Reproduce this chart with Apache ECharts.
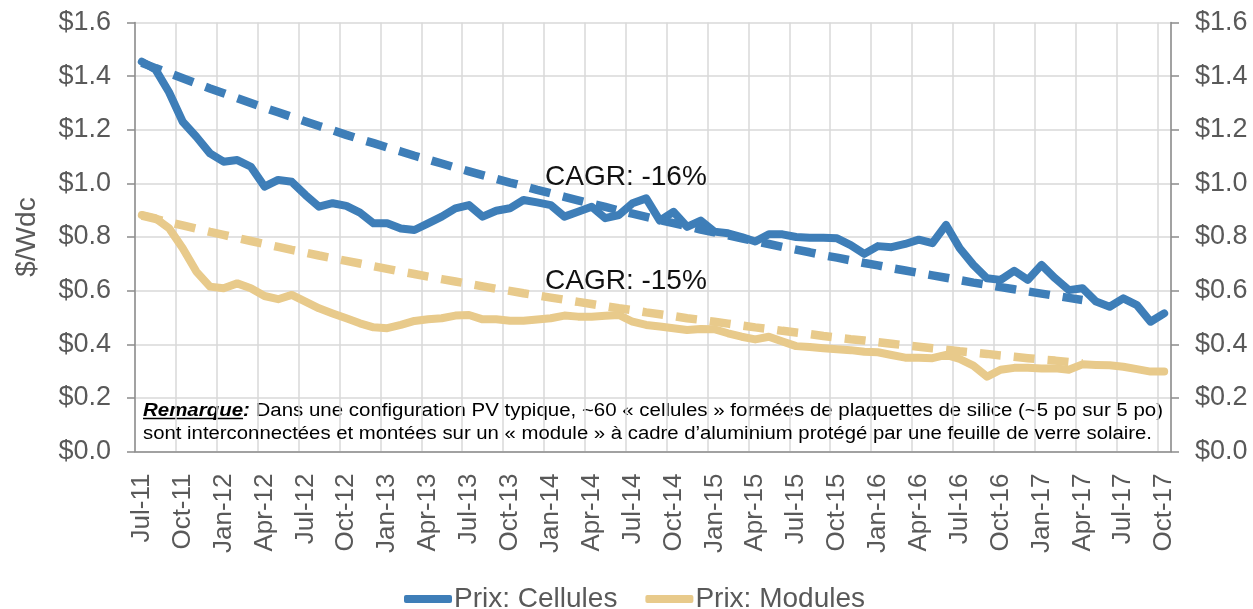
<!DOCTYPE html>
<html>
<head>
<meta charset="utf-8">
<script src="https://cdn.jsdelivr.net/npm/echarts@6/dist/echarts.min.js"></script>
<style>
  html, body { margin: 0; padding: 0; background: #fff; }
  #chart { width: 1253px; height: 609px; }
</style>
</head>
<body>
<div id="chart"></div>
<script>
// monthly categories, Jul-11 .. Oct-17
const months = [
  'Jul-11', 'Aug-11', 'Sep-11', 'Oct-11', 'Nov-11', 'Dec-11',
  'Jan-12', 'Feb-12', 'Mar-12', 'Apr-12', 'May-12', 'Jun-12', 'Jul-12', 'Aug-12', 'Sep-12', 'Oct-12', 'Nov-12', 'Dec-12',
  'Jan-13', 'Feb-13', 'Mar-13', 'Apr-13', 'May-13', 'Jun-13', 'Jul-13', 'Aug-13', 'Sep-13', 'Oct-13', 'Nov-13', 'Dec-13',
  'Jan-14', 'Feb-14', 'Mar-14', 'Apr-14', 'May-14', 'Jun-14', 'Jul-14', 'Aug-14', 'Sep-14', 'Oct-14', 'Nov-14', 'Dec-14',
  'Jan-15', 'Feb-15', 'Mar-15', 'Apr-15', 'May-15', 'Jun-15', 'Jul-15', 'Aug-15', 'Sep-15', 'Oct-15', 'Nov-15', 'Dec-15',
  'Jan-16', 'Feb-16', 'Mar-16', 'Apr-16', 'May-16', 'Jun-16', 'Jul-16', 'Aug-16', 'Sep-16', 'Oct-16', 'Nov-16', 'Dec-16',
  'Jan-17', 'Feb-17', 'Mar-17', 'Apr-17', 'May-17', 'Jun-17', 'Jul-17', 'Aug-17', 'Sep-17', 'Oct-17'
]

const yTickLabels = ['$0.0', '$0.2', '$0.4', '$0.6', '$0.8', '$1.0', '$1.2', '$1.4', '$1.6']

// Prix: Cellules ($/Wdc)
const cellPrice = [
  1.454, 1.425, 1.34, 1.23, 1.174, 1.112,
  1.081, 1.087, 1.062, 0.988, 1.013, 1.006, 0.957, 0.913, 0.926, 0.916, 0.891, 0.851,
  0.851, 0.832, 0.826, 0.851, 0.876, 0.907, 0.919, 0.876, 0.898, 0.907, 0.938, 0.929,
  0.919, 0.876, 0.894, 0.913, 0.870, 0.882, 0.926, 0.944, 0.861, 0.894, 0.838, 0.861,
  0.820, 0.814, 0.800, 0.783, 0.810, 0.810, 0.800, 0.797, 0.797, 0.795, 0.770, 0.737,
  0.766, 0.762, 0.774, 0.790, 0.777, 0.845, 0.758, 0.696, 0.646, 0.640, 0.674, 0.640,
  0.696, 0.646, 0.602, 0.609, 0.559, 0.540, 0.571, 0.546, 0.484, 0.515
]

// Prix: Modules ($/Wdc)
const modulePrice = [
  0.882, 0.870, 0.833, 0.758, 0.671, 0.615,
  0.609, 0.627, 0.609, 0.580, 0.568, 0.584, 0.559, 0.534, 0.515, 0.497, 0.478, 0.463,
  0.460, 0.472, 0.487, 0.493, 0.497, 0.507, 0.509, 0.493, 0.493, 0.488, 0.488, 0.492,
  0.497, 0.507, 0.503, 0.503, 0.506, 0.509, 0.484, 0.472, 0.466, 0.460, 0.453, 0.457,
  0.456, 0.441, 0.428, 0.418, 0.428, 0.410, 0.393, 0.390, 0.385, 0.381, 0.378, 0.372,
  0.370, 0.360, 0.350, 0.350, 0.348, 0.360, 0.345, 0.320, 0.279, 0.305, 0.312, 0.312,
  0.310, 0.310, 0.305, 0.325, 0.323, 0.322, 0.316, 0.307, 0.298, 0.298
]

// CAGR trend lines (dashed), Jul-11 .. Apr-17
const cellTrend = [
  1.450, 1.430, 1.411, 1.392, 1.373, 1.354,
  1.336, 1.318, 1.300, 1.282, 1.265, 1.248, 1.231, 1.214, 1.198, 1.181, 1.165, 1.150,
  1.134, 1.119, 1.103, 1.089, 1.074, 1.059, 1.045, 1.031, 1.017, 1.003, 0.990, 0.976,
  0.963, 0.950, 0.937, 0.924, 0.912, 0.899, 0.887, 0.875, 0.863, 0.852, 0.840, 0.828,
  0.817, 0.806, 0.795, 0.784, 0.774, 0.763, 0.753, 0.743, 0.732, 0.723, 0.713, 0.703,
  0.694, 0.684, 0.675, 0.666, 0.657, 0.648, 0.639, 0.630, 0.622, 0.613, 0.605, 0.597,
  0.589, 0.581, 0.573, 0.565
]

const moduleTrend = [
  0.880, 0.868, 0.855, 0.843, 0.831, 0.819,
  0.808, 0.796, 0.785, 0.774, 0.763, 0.752, 0.742, 0.731, 0.721, 0.711, 0.701, 0.691,
  0.681, 0.671, 0.662, 0.652, 0.643, 0.634, 0.625, 0.616, 0.607, 0.599, 0.590, 0.582,
  0.574, 0.566, 0.558, 0.550, 0.542, 0.534, 0.527, 0.519, 0.512, 0.505, 0.497, 0.491,
  0.484, 0.477, 0.470, 0.463, 0.457, 0.450, 0.444, 0.438, 0.431, 0.425, 0.419, 0.414,
  0.408, 0.402, 0.396, 0.391, 0.385, 0.380, 0.374, 0.369, 0.364, 0.358, 0.353, 0.348,
  0.343, 0.339, 0.334, 0.329
]

const BLUE = '#3e7eb8'
const SAND = '#e8ca8b'
const GREY = '#595959'
const FONT = 'Liberation Sans, Arial, sans-serif'

const noteBold = 'Remarque:'
const noteUnder = 'Remarque'
const noteLine1 = ' Dans une configuration PV typique, ~60 « cellules » formées de plaquettes de silice (~5 po sur 5 po)'
const noteLine2 = 'sont interconnectées et montées sur un « module » à cadre d’aluminium protégé par une feuille de verre solaire.'

// measure text so the note lines can be stretched to the plot width
const ctx = document.createElement('canvas').getContext('2d')
function measure(str, font) {
  ctx.font = font
  return ctx.measureText(str).width
}

const boldFont = 'italic bold 18px ' + FONT
const plainFont = '18px ' + FONT
const wBold = measure(noteBold, boldFont)
const wUnder = measure(noteUnder, boldFont)
const wLine1 = wBold + measure(noteLine1, plainFont)
const wLine2 = measure(noteLine2, plainFont)

function trendSeries(name, data, color) {
  return {
    name: name,
    type: 'line',
    data: data,
    symbol: 'none',
    silent: true,
    z: 3,
    lineStyle: { color: color, width: 8.5, type: [21, 13], cap: 'butt' }
  }
}

function priceSeries(name, data, color) {
  return {
    name: name,
    type: 'line',
    data: data,
    symbol: 'none',
    itemStyle: { color: color },
    z: 2,
    lineStyle: { color: color, width: 8, cap: 'round', join: 'round' }
  }
}

function yAxisOpt(pos) {
  return {
    type: 'value',
    position: pos,
    min: 0,
    max: 1.6,
    interval: 0.2,
    axisLine: { show: true, lineStyle: { color: '#8c8c8c', width: 1.5 } },
    axisTick: { show: true, length: 8, lineStyle: { color: '#8c8c8c', width: 1.5 } },
    axisLabel: {
      color: GREY,
      fontSize: 27,
      fontFamily: FONT,
      margin: 24,
      formatter: v => yTickLabels[Math.round(v / 0.2)]
    },
    splitLine: { show: pos === 'left', lineStyle: { color: '#d9d9d9', width: 1.5 } }
  }
}

const chart = echarts.init(document.getElementById('chart'))

const leftAxis = yAxisOpt('left')
leftAxis.name = '$/Wdc'
leftAxis.nameLocation = 'middle'
leftAxis.nameGap = 94
leftAxis.nameTextStyle = { color: GREY, fontSize: 28, fontFamily: FONT }

chart.setOption({
  animation: false,
  backgroundColor: '#fff',
  textStyle: { fontFamily: FONT },
  grid: { left: 135, right: 82, top: 22.5, bottom: 157.5, outerBoundsMode: 'none' },
  legend: {
    data: ['Prix: Cellules', 'Prix: Modules'],
    left: 399,
    top: 580,
    icon: 'roundRect',
    itemWidth: 48,
    itemHeight: 8,
    itemGap: 28,
    textStyle: { color: GREY, fontSize: 28, fontFamily: FONT, padding: [0, 0, 0, -3] }
  },
  xAxis: {
    type: 'category',
    data: months,
    boundaryGap: true,
    axisLine: { lineStyle: { color: '#8c8c8c', width: 1.5 } },
    axisTick: { interval: 2, length: 8, lineStyle: { color: '#8c8c8c', width: 1.5 } },
    axisLabel: { interval: 2, rotate: 90, color: GREY, fontSize: 26, fontFamily: FONT, margin: 22 },
    splitLine: { show: true, interval: 2, lineStyle: { color: '#d9d9d9', width: 1.5 } }
  },
  yAxis: [leftAxis, yAxisOpt('right')],
  series: [
    priceSeries('Prix: Cellules', cellPrice, BLUE),
    priceSeries('Prix: Modules', modulePrice, SAND),
    trendSeries('Tendance cellules', cellTrend, BLUE),
    trendSeries('Tendance modules', moduleTrend, SAND)
  ],
  graphic: [
    {
      type: 'text', x: 545, y: 177, z: 10,
      style: { text: 'CAGR: -16%', fill: '#111', fontSize: 28, fontFamily: FONT, verticalAlign: 'middle' }
    },
    {
      type: 'text', x: 545, y: 281, z: 10,
      style: { text: 'CAGR: -15%', fill: '#111', fontSize: 28, fontFamily: FONT, verticalAlign: 'middle' }
    },
    {
      type: 'group', x: 143, y: 411, scaleX: 1020 / wLine1, z: 10,
      children: [
        { type: 'text', x: 0, y: 0, style: { text: noteBold, font: boldFont, fill: '#000', verticalAlign: 'middle' } },
        { type: 'text', x: wBold, y: 0, style: { text: noteLine1, font: plainFont, fill: '#000', verticalAlign: 'middle' } },
        { type: 'line', shape: { x1: 0, y1: 7.5, x2: wUnder, y2: 7.5 }, style: { stroke: '#000', lineWidth: 1.5 } }
      ]
    },
    {
      type: 'text', x: 143, y: 434, scaleX: 1009 / wLine2, z: 10,
      style: { text: noteLine2, font: plainFont, fill: '#000', verticalAlign: 'middle' }
    }
  ]
})
</script>
</body>
</html>
